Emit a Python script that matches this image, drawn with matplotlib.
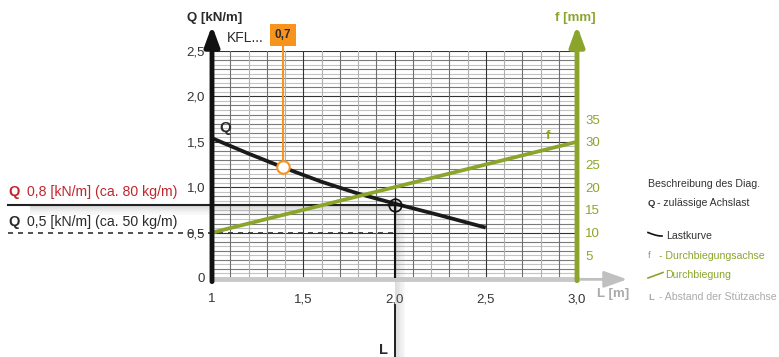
import numpy as np
import matplotlib
matplotlib.use("Agg")
import matplotlib.pyplot as plt

plt.rcParams['font.family'] = ['Liberation Sans', 'DejaVu Sans']

# ---------------- data ----------------
L_q = [1.0, 1.2, 1.4, 1.6, 1.8, 2.0, 2.25, 2.5]
Q_vals = [1.54, 1.37, 1.21, 1.06, 0.93, 0.82, 0.69, 0.555]
L_f = [1.0, 1.5, 2.0, 2.5, 3.0]
f_vals = [10, 15, 20, 25, 30]
x_ticks = [1.0, 1.5, 2.0, 2.5, 3.0]
x_ticklabels = ["1", "1,5", "2,0", "2,5", "3,0"]
y_ticks = [0, 0.5, 1.0, 1.5, 2.0, 2.5]
y_ticklabels = ["0", "0,5", "1,0", "1,5", "2,0", "2,5"]
f_ticks = [5, 10, 15, 20, 25, 30, 35]
f_ticklabels = ["5", "10", "15", "20", "25", "30", "35"]
kfl_L = 1.39          # KFL 0,7 marker position
kfl_label = "0,7"
sel_L = 2.0           # chosen support distance
sel_Q = 0.8           # chosen load
alt_Q = 0.5           # alternative load

GREEN = '#8ba52c'
ORANGE = '#f7941e'
RED = '#c0272d'
DARK = '#2b2b2b'
GRAY_T = '#aaaaaa'

W, H = 779, 357
fig = plt.figure(figsize=(W / 100, H / 100), dpi=100)
x0, x1, ytop, ybot = 212, 577, 51, 278
ax = fig.add_axes([x0 / W, 1 - ybot / H, (x1 - x0) / W, (ybot - ytop) / H])
ax.set_xlim(1, 3)
ax.set_ylim(0, 2.5)
for s in ax.spines.values():
    s.set_visible(False)

# ---------------- grid ----------------
for yv in np.arange(0.05, 2.5001, 0.05):
    k = round(yv / 0.05)
    if k % 10 == 0:
        c = '#333333'
    elif k % 2 == 0:
        c = '#7a7a7a'
    else:
        c = '#c4c4c4'
    ax.axhline(yv, color=c, lw=0.8, zorder=1)
for xv in np.arange(1.1, 2.9501, 0.1):
    k = round(xv * 10)
    if k % 5 == 0:
        c = '#333333'
    elif k % 2 == 1:
        c = '#6e6e6e'
    else:
        c = '#b0b0b0'
    ax.axvline(xv, color=c, lw=0.8, zorder=1)

# ---------------- shadows ----------------
Lleft = 1 + (8 - x0) / 182.5
for i in range(8):
    a = 0.30 * (1 - i / 8)
    ax.fill_between([Lleft + 0.12, sel_L], sel_Q - 0.013 * (i + 1), sel_Q - 0.013 * i,
                    color='#8a8a8a', alpha=a, lw=0, zorder=2, clip_on=False)
for i in range(6):
    a = 0.28 * (1 - i / 6)
    ax.fill_between([sel_L + 0.005 + 0.009 * i, sel_L + 0.005 + 0.009 * (i + 1)],
                    -0.95, sel_Q, color='#8a8a8a', alpha=a, lw=0, zorder=2, clip_on=False)

# ---------------- reference lines ----------------
ax.plot([Lleft, sel_L], [sel_Q, sel_Q], color='#222222', lw=1.5, zorder=4, clip_on=False)
ax.plot([Lleft, sel_L], [alt_Q, alt_Q], color='#333333', lw=1.2, ls=(0, (3, 3)),
        zorder=4, clip_on=False)
ax.plot([sel_L, sel_L], [sel_Q, 0], color='#111111', lw=1.5, zorder=4)
ax.plot([sel_L, sel_L], [-0.3, -0.95], color='#111111', lw=1.3, zorder=4, clip_on=False)

# ---------------- curves ----------------
ax.plot(L_q, Q_vals, color='#1a1a1a', lw=2.7, zorder=5, solid_capstyle='butt')
f_as_q = [v / 20 for v in f_vals]
ax.plot(L_f, f_as_q, color=GREEN, lw=2.7, zorder=5, solid_capstyle='butt')

# markers
q_kfl = np.interp(kfl_L, L_q, Q_vals)
ax.plot([kfl_L, kfl_L], [q_kfl, 2.72], color=ORANGE, lw=1.5, zorder=6, clip_on=False)
ax.plot([kfl_L], [q_kfl], 'o', ms=9, mfc='white', mec=ORANGE, mew=1.5, zorder=7)
ax.plot([sel_L], [sel_Q], 'o', ms=9, mfc='none', mec='#111111', mew=1.2, zorder=7)
ax.plot([sel_L], [sel_Q], '+', ms=11, mec='#111111', mew=1.0, zorder=7)

# ---------------- axes lines ----------------
ax.annotate('', xy=(1, 2.78), xytext=(1, -0.04), annotation_clip=False,
            arrowprops=dict(arrowstyle='-|>,head_length=0.6,head_width=0.22', lw=3.5,
                            color='#111111', mutation_scale=20, shrinkA=0, shrinkB=0), zorder=8)
ax.annotate('', xy=(3, 2.78), xytext=(3, -0.03), annotation_clip=False,
            arrowprops=dict(arrowstyle='-|>,head_length=0.6,head_width=0.22', lw=3.5,
                            color=GREEN, mutation_scale=20, shrinkA=0, shrinkB=0), zorder=8)
ax.plot([1, 3], [-0.015, -0.015], color='#c8c8c8', lw=3.5, zorder=3, clip_on=False)
ax.annotate('', xy=(3.275, -0.015), xytext=(3.02, -0.015), annotation_clip=False,
            arrowprops=dict(arrowstyle='-|>,head_length=0.7,head_width=0.25', lw=2.0,
                            color='#c0c0c0', mutation_scale=20, shrinkA=0, shrinkB=0), zorder=3)

# ---------------- ticks ----------------
ax.set_xticks(x_ticks, x_ticklabels)
ax.set_yticks(y_ticks, y_ticklabels)
ax.tick_params(length=0, labelsize=9.5, colors='#333333')
ax.tick_params(axis='x', pad=11)
ax.tick_params(axis='y', pad=5)
ax2 = ax.twinx()
ax2.set_ylim(0, 50)
for s in ax2.spines.values():
    s.set_visible(False)
ax2.set_yticks(f_ticks, f_ticklabels)
ax2.tick_params(length=0, labelsize=9.5, colors=GREEN, pad=6)

# ---------------- labels ----------------
def ftext(px, py, s, **kw):
    fig.text(px / W, 1 - py / H, s, **kw)

ftext(215, 18, "Q [kN/m]", ha='center', va='center', fontsize=9.5, fontweight='bold', color=DARK)
ftext(575, 18, "f [mm]", ha='center', va='center', fontsize=9.5, fontweight='bold', color=GREEN)
ftext(227, 38, "KFL...", ha='left', va='center', fontsize=10, color=DARK)
ftext(283, 35, kfl_label, ha='center', va='center', fontsize=8.5, fontweight='bold', color=DARK,
      bbox=dict(boxstyle='square,pad=0.4', fc=ORANGE, ec='none'))
ftext(219, 128, "Q", ha='left', va='center', fontsize=11, fontweight='bold', color=DARK)
ftext(548, 136, "f", ha='center', va='center', fontsize=9.5, fontweight='bold', color=GREEN)
ftext(597, 294, "L [m]", ha='left', va='center', fontsize=9.5, fontweight='bold', color=GRAY_T)
ftext(383, 350, "L", ha='center', va='center', fontsize=10.5, fontweight='bold', color=DARK)

ftext(8, 192, "Q", ha='left', va='center', fontsize=10.5, fontweight='bold', color=RED)
ftext(27, 192, "0,8 [kN/m] (ca. 80 kg/m)", ha='left', va='center', fontsize=10.2, color=RED)
ftext(8, 222, "Q", ha='left', va='center', fontsize=10.5, fontweight='bold', color=DARK)
ftext(27, 222, "0,5 [kN/m] (ca. 50 kg/m)", ha='left', va='center', fontsize=10.2, color=DARK)

# legend / description
LS = 7.6
ftext(648, 184, "Beschreibung des Diag.", ha='left', va='center', fontsize=LS, color='#333333')
ftext(648, 203, "Q", ha='left', va='center', fontsize=6.8, fontweight='bold', color='#333333')
ftext(657, 203, "- zulässige Achslast", ha='left', va='center', fontsize=LS, color='#333333')
ftext(666, 236, "Lastkurve", ha='left', va='center', fontsize=LS, color='#333333')
ftext(648, 256, "f", ha='left', va='center', fontsize=6.8, color=GREEN)
ftext(659, 256, "- Durchbiegungsachse", ha='left', va='center', fontsize=LS, color=GREEN)
ftext(665, 275, "Durchbiegung", ha='left', va='center', fontsize=LS, color=GREEN)
ftext(648, 297, "L", ha='left', va='center', fontsize=6.8, fontweight='bold', color=GRAY_T)
ftext(659, 297, "- Abstand der Stützachse", ha='left', va='center', fontsize=LS, color=GRAY_T)

# legend icons (figure pixel space)
icon = fig.add_axes([0, 0, 1, 1], facecolor='none')
icon.set_xlim(0, W)
icon.set_ylim(H, 0)
icon.axis('off')
tt = np.linspace(0, 1, 20)
icon.plot(648 + 14 * tt, 232.5 + 3.5 * np.sin(tt * np.pi / 2), color='#111111', lw=1.2)
icon.plot([648, 663], [278, 272.5], color=GREEN, lw=1.2)

fig.savefig("out.png", dpi=100)
